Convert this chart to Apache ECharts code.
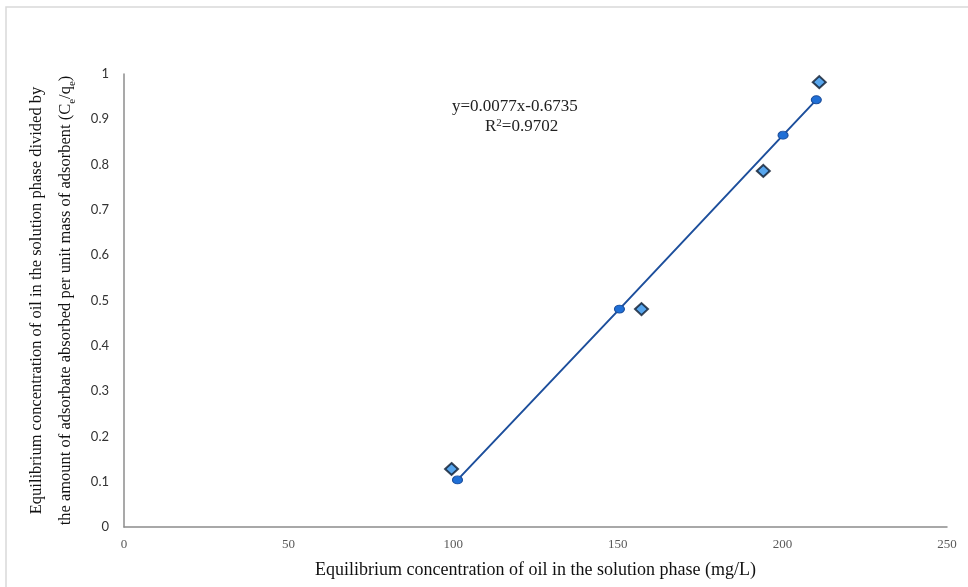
<!DOCTYPE html>
<html>
<head>
<meta charset="utf-8">
<script src="https://cdn.jsdelivr.net/npm/echarts@6/dist/echarts.min.js"></script>
<style>
  html, body { margin: 0; padding: 0; background: #fff; }
  #chart { width: 968px; height: 587px; }
</style>
</head>
<body>
<div id="chart"></div>
<script>
// values
var fitX = [101.3, 150.5, 200.2, 210.3];
var fitY = [0.104, 0.481, 0.865, 0.943];
var measX = [99.5, 157.2, 194.2, 211.2];
var measY = [0.128, 0.481, 0.786, 0.982];
var xTicks = [0, 50, 100, 150, 200, 250];
var yTicks = [0, 0.1, 0.2, 0.3, 0.4, 0.5, 0.6, 0.7, 0.8, 0.9, 1];

function pairs(xs, ys) {
  return xs.map(function (x, i) { return [x, ys[i]]; });
}

var serif = "'Liberation Serif', 'DejaVu Serif', serif";

var chart = echarts.init(document.getElementById("chart"));
chart.setOption({
  animation: false,
  grid: { left: 124, right: 21, top: 74, bottom: 60 },
  graphic: [
    {
      type: "rect",
      shape: { x: 6, y: 7, width: 1000, height: 620 },
      style: { fill: null, stroke: "#d9d9d9", lineWidth: 1.5 },
      silent: true
    },
    {
      type: "text",
      left: 452, top: 98,
      style: {
        text: "{t|y=0.0077x-0.6735}",
        rich: { t: { fontFamily: serif, fontSize: 17, fill: "#222" } }
      }
    },
    {
      type: "text",
      left: 485, top: 118,
      style: {
        text: "{t|R}{s|2}{t|=0.9702}",
        rich: {
          t: { fontFamily: serif, fontSize: 17, fill: "#222" },
          s: { fontFamily: serif, fontSize: 11, fill: "#222", verticalAlign: "top", padding: [0, 0, 6, 0] }
        }
      }
    }
  ],
  xAxis: {
    type: "value",
    min: xTicks[0],
    max: xTicks[xTicks.length - 1],
    interval: 50,
    splitLine: { show: false },
    axisTick: { show: false },
    axisLine: { lineStyle: { color: "#8c8c8c", width: 1.5 } },
    axisLabel: { color: "#595959", fontFamily: serif, fontSize: 13, margin: 11 },
    name: "Equilibrium concentration of oil in the solution phase (mg/L)",
    nameLocation: "middle",
    nameGap: 34,
    nameTextStyle: { fontFamily: serif, fontSize: 18, color: "#111" }
  },
  yAxis: {
    type: "value",
    min: yTicks[0],
    max: yTicks[yTicks.length - 1],
    interval: 0.1,
    splitLine: { show: false },
    axisTick: { show: false },
    axisLine: { show: true, lineStyle: { color: "#8c8c8c", width: 1.5 } },
    axisLabel: { color: "#333", fontFamily: "Lato, 'Open Sans', sans-serif", fontSize: 13, margin: 15 },
    name: "{t|Equilibrium concentration of oil in the solution phase divided by}\n" +
          "{t|the amount of adsorbate absorbed per unit mass of adsorbent (C}{s|e}{t|/q}{s|e}{t|)}",
    nameLocation: "middle",
    nameRotate: 90,
    nameGap: 35,
    nameTextStyle: {
      rich: {
        t: { fontFamily: serif, fontSize: 16.5, color: "#111", lineHeight: 29 },
        s: { fontFamily: serif, fontSize: 11, color: "#111", verticalAlign: "bottom", lineHeight: 14, padding: [0, 0, 2, 0] }
      }
    }
  },
  series: [
    {
      type: "line",
      data: pairs(fitX, fitY),
      symbol: "circle",
      symbolSize: [10, 8],
      lineStyle: { color: "#1d4f9c", width: 2 },
      itemStyle: { color: "#1f6fd6", borderColor: "#1d4f9c", borderWidth: 1 },
      z: 2
    },
    {
      type: "scatter",
      data: pairs(measX, measY),
      symbol: "diamond",
      symbolSize: [13, 12],
      itemStyle: { color: "#2e90e8", borderColor: "#0d1a2e", borderWidth: 2 },
      z: 3
    }
  ]
});
</script>
</body>
</html>
